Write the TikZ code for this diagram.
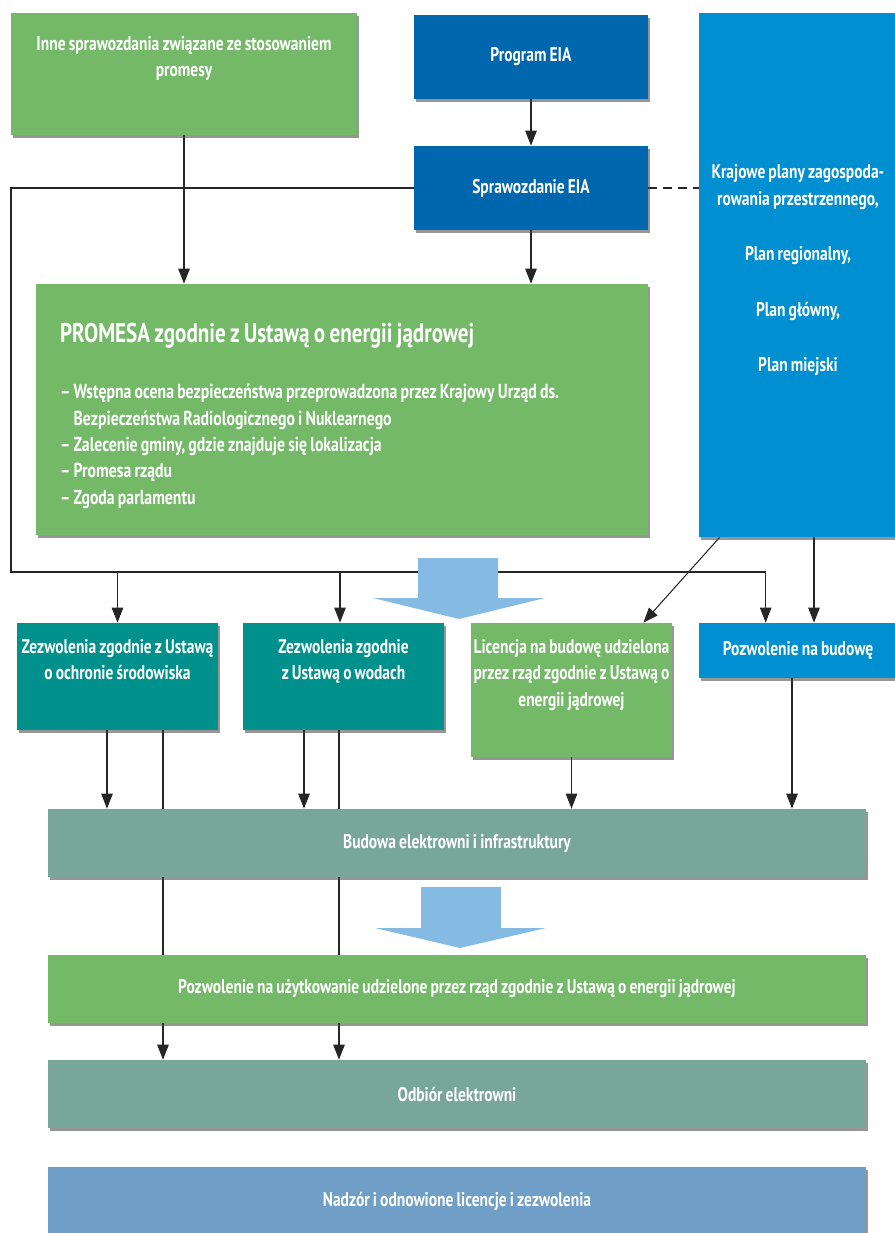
\documentclass[tikz,border=0pt]{standalone}
\usepackage{fontspec}
\setmainfont{PT Sans}[FakeStretch=0.78,WordSpace=0.8]
\usetikzlibrary{positioning,shadows,arrows.meta,backgrounds}

\definecolor{promgreen}{RGB}{115,185,103}
\definecolor{eiablue}{RGB}{0,102,174}
\definecolor{planblue}{RGB}{0,143,208}
\definecolor{lawteal}{RGB}{0,145,140}
\definecolor{stepgray}{RGB}{120,167,154}
\definecolor{superblue}{RGB}{111,158,198}
\definecolor{flowblue}{RGB}{133,187,227}

\begin{document}
\begin{tikzpicture}[
    x=0.02cm, y=-0.02cm,
    font=\bfseries\fontsize{11.3}{15}\selectfont,
    base/.style={rectangle,inner sep=0pt,text=white,align=center,
      drop shadow={shadow xshift=1.3pt,shadow yshift=-1.5pt,fill=black!75,opacity=.55}},
    greenbox/.style={base,fill=promgreen},
    eiabox/.style={base,fill=eiablue},
    planbox/.style={base,fill=planblue},
    lawbox/.style={base,fill=lawteal},
    stepbox/.style={base,fill=stepgray},
    boxtext/.style={text=white,align=center,inner sep=0pt},
    line/.style={draw=black!85,line width=0.6pt},
    arr/.style={line,-{Triangle[width=6.5pt,length=8.5pt]}},
    bigarrow/.style={fill=flowblue}
  ]
  \useasboundingbox (0,0) rectangle (895,1233);

  % top row
  \node(inne) [greenbox,minimum width=6.92cm,minimum height=2.44cm] at (184,74) {};
  \node(inne-t) [boxtext,below=0.47cm of inne.north] {Inne sprawozdania związane ze stosowaniem\\promesy};

  \node(prog) [eiabox,minimum width=4.68cm,minimum height=1.68cm] at (531,57) {Program EIA};
  \node(spraw) [eiabox,minimum width=4.68cm,minimum height=1.68cm] at (531,188) {Sprawozdanie EIA};

  \node(kraj) [planbox,minimum width=3.96cm,minimum height=10.48cm] at (798,275)
    {Krajowe plany zagospoda-\\rowania przestrzennego,\\[16.6pt]Plan regionalny,\\[16.6pt]Plan główny,\\[16.6pt]Plan miejski\rule[-7.8pt]{0pt}{0pt}};

  \node(promesa) [greenbox,minimum width=12.24cm,minimum height=5.02cm,
    align=flush left,text width=11.28cm,inner xsep=0.48cm,
    font=\bfseries\fontsize{11.5}{15}\selectfont] at (342,409.5)
    {{\fontsize{15.4}{18}\selectfont\rule{0pt}{18.4pt}PROMESA zgodnie z Ustawą o energii jądrowej}\\[17pt]
     – Wstępna ocena bezpieczeństwa przeprowadzona przez Krajowy Urząd ds.\\
     \phantom{– }Bezpieczeństwa Radiologicznego i Nuklearnego\\
     – Zalecenie gminy, gdzie znajduje się lokalizacja\\
     – Promesa rządu\\
     – Zgoda parlamentu};

  % permits row
  \node(zez1) [lawbox,minimum width=4.02cm,minimum height=2.14cm] at (117.5,676.5) {};
  \node(zez1-t) [boxtext,below=0.33cm of zez1.north] {Zezwolenia zgodnie z Ustawą\\o ochronie środowiska};

  \node(zez2) [lawbox,minimum width=4.02cm,minimum height=2.14cm] at (343.5,676.5) {};
  \node(zez2-t) [boxtext,below=0.33cm of zez2.north] {Zezwolenia zgodnie\\z Ustawą o wodach};

  \node(lic) [greenbox,minimum width=4.02cm,minimum height=2.68cm] at (571.5,690) {};
  \node(lic-t) [boxtext,below=0.33cm of lic.north] {Licencja na budowę udzielona\\przez rząd zgodnie z Ustawą o\\energii jądrowej};

  \node(poz) [planbox,minimum width=3.96cm,minimum height=1.1cm] at (798,650.5) {Pozwolenie na budowę};

  % bottom stages
  \node(budowa) [stepbox,minimum width=16.36cm,minimum height=1.36cm] at (457,843) {Budowa elektrowni i infrastruktury};
  \node(uzyt) [greenbox,minimum width=16.36cm,minimum height=1.36cm] at (457,989)
    {Pozwolenie na użytkowanie udzielone przez rząd zgodnie z Ustawą o energii jądrowej};
  \node(odbior) [stepbox,minimum width=16.36cm,minimum height=1.36cm] at (457,1094) {Odbiór elektrowni};
  \node(nadzor) [base,fill=superblue,minimum width=16.36cm,minimum height=1.38cm] at (457,1201.5)
    {Nadzór i odnowione licencje i zezwolenia};

  \coordinate(bus) at (11,572);

  \begin{scope}[on background layer]
    \draw[arr] (inne.south) -- (inne.south |- promesa.north);
    \draw[arr] (prog.south) -- (spraw.north);
    \draw[arr] (spraw.south) -- (spraw.south |- promesa.north);
    \draw[line,dashed,dash pattern=on 5pt off 3.5pt] (spraw.east) -- (spraw.east -| kraj.west);

    \draw[arr] (spraw.west) -| (bus) -| ([xshift=1.34cm]poz.north west);
    \draw[arr] (zez1.north |- bus) -- (zez1.north);
    \draw[arr] ([xshift=-0.07cm]zez2.north |- bus) -- ([xshift=-0.07cm]zez2.north);

    \draw[arr] ([xshift=0.42cm]kraj.south west) -- ([xshift=-0.58cm]lic.north east);
    \draw[arr] ([xshift=0.32cm]kraj.south) -- ([xshift=0.32cm]poz.north);

    \draw[arr] ([xshift=-0.21cm]zez1.south) -- ([xshift=-0.21cm]zez1.south |- budowa.north);
    \draw[arr] ([xshift=0.91cm]zez1.south) -- ([xshift=0.91cm]zez1.south |- odbior.north);
    \draw[arr] ([xshift=-0.79cm]zez2.south) -- ([xshift=-0.79cm]zez2.south |- budowa.north);
    \draw[arr] ([xshift=-0.09cm]zez2.south) -- ([xshift=-0.09cm]zez2.south |- odbior.north);
    \draw[arr] (lic.south) -- (lic.south |- budowa.north);
    \draw[arr] ([xshift=-0.12cm]poz.south) -- ([xshift=-0.12cm]poz.south |- budowa.north);
  \end{scope}

  % big flow arrows
  \fill[bigarrow] (418,558) -- (498,558) -- (498,598) -- (545,598) -- (459,619) -- (373,598) -- (418,598) -- cycle;
  \fill[bigarrow] (421,887) -- (501,887) -- (501,928) -- (546,928) -- (460,948) -- (375,928) -- (421,928) -- cycle;

\end{tikzpicture}
\end{document}
